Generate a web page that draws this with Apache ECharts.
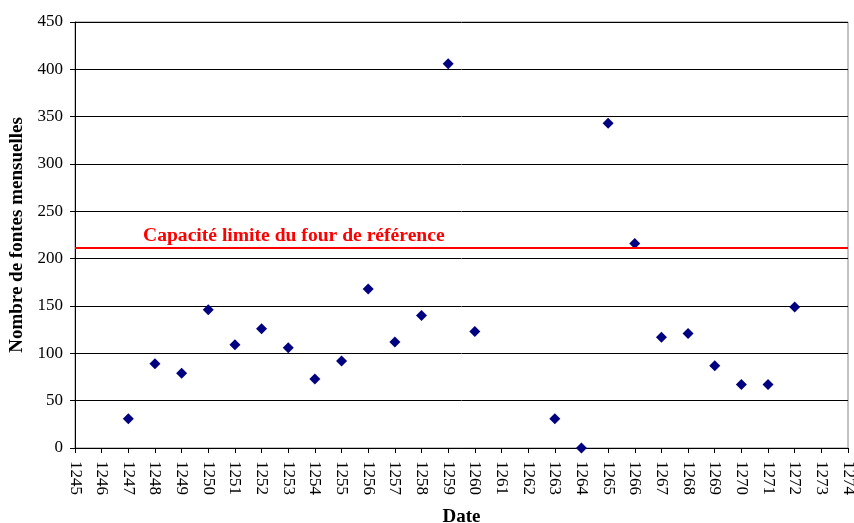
<!DOCTYPE html>
<html>
<head>
<meta charset="utf-8">
<script src="https://cdn.jsdelivr.net/npm/echarts@6/dist/echarts.min.js"></script>
<style>
  html, body { margin: 0; padding: 0; background: #fff; }
  #chart { width: 854px; height: 523px; }
</style>
</head>
<body>
<div id="chart"></div>
<script>
// Years of recorded monthly castings
const years = [1247, 1248, 1249, 1250, 1251, 1252, 1253, 1254, 1255, 1256, 1257, 1258, 1259, 1260,
               1263, 1264, 1265, 1266, 1267, 1268, 1269, 1270, 1271, 1272];
// Monthly castings count per year
const castings = [31, 89, 79, 146, 109, 126, 106, 73, 92, 168, 112, 140, 406, 123,
                  31, 0, 343, 216, 117, 121, 87, 67, 67, 149];
// Reference furnace capacity
const capacityLimit = 212;
const capacityLabel = 'Capacité limite du four de référence';

const xMin = 1245, xMax = 1274;
const yMin = 0, yMax = 450, yStep = 50;

const font = '"Liberation Serif", "Times New Roman", serif';

const chart = echarts.init(document.getElementById('chart'));
chart.setOption({
  animation: false,
  grid: {
    left: 75, right: 6, top: 22, bottom: 75,
    outerBoundsMode: 'none',
    containLabel: false,
    show: true, borderColor: '#888', borderWidth: 1
  },
  xAxis: {
    type: 'value',
    min: xMin, max: xMax, interval: 1,
    name: 'Date',
    nameLocation: 'middle',
    nameGap: 60,
    nameTextStyle: { fontFamily: font, fontWeight: 'bold', fontSize: 19, color: '#000' },
    axisLine: { show: true, lineStyle: { color: '#000', width: 1 } },
    axisTick: { show: true, length: 5, lineStyle: { color: '#000' } },
    axisLabel: {
      rotate: -90, margin: 13, fontFamily: font, fontSize: 17, color: '#000',
      formatter: v => String(v)
    },
    splitLine: { show: false }
  },
  yAxis: {
    type: 'value',
    min: yMin, max: yMax, interval: yStep,
    name: 'Nombre de fontes mensuelles',
    nameLocation: 'middle',
    nameGap: 46,
    nameTextStyle: { fontFamily: font, fontWeight: 'bold', fontSize: 19, color: '#000' },
    axisLine: { show: true, lineStyle: { color: '#000', width: 1 } },
    axisTick: { show: true, length: 5, lineStyle: { color: '#000' } },
    axisLabel: { margin: 12, fontFamily: font, fontSize: 17, color: '#000' },
    splitLine: { show: true, lineStyle: { color: '#000', width: 1 } }
  },
  series: [{
    type: 'scatter',
    data: years.map((y, i) => [y, castings[i]]),
    symbol: 'diamond',
    symbolSize: 11,
    itemStyle: { color: '#000080', opacity: 1 },
    z: 3,
    markLine: {
      silent: true,
      symbol: ['none', 'none'],
      lineStyle: { color: '#ff0000', width: 2, type: 'solid' },
      label: {
        show: true,
        position: 'insideStartTop',
        formatter: capacityLabel,
        distance: [68, 1],
        fontFamily: font, fontWeight: 'bold', fontSize: 19.6, color: '#ff0000'
      },
      data: [{ yAxis: capacityLimit }]
    }
  }]
});
</script>
</body>
</html>
